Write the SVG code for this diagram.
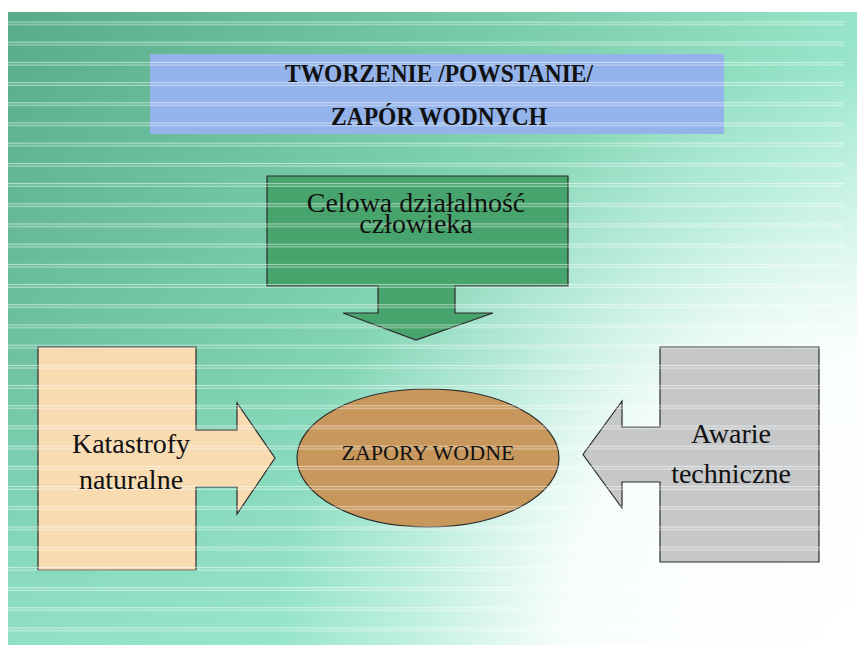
<svg xmlns="http://www.w3.org/2000/svg" width="857" height="645" viewBox="0 0 857 645">
<defs>
<linearGradient id="bg" x1="0" y1="0" x2="1" y2="0.55">
<stop offset="0" stop-color="#58ab89"/>
<stop offset="0.45" stop-color="#78cba9"/>
<stop offset="0.8" stop-color="#9be6cb"/>
<stop offset="1" stop-color="#c9f6ea"/>
</linearGradient>
<linearGradient id="bgv" x1="0" y1="0" x2="0" y2="1">
<stop offset="0" stop-color="#8fe3c9" stop-opacity="0"/>
<stop offset="0.55" stop-color="#8fe3c9" stop-opacity="0.15"/>
<stop offset="1" stop-color="#9ae8d2" stop-opacity="0.75"/>
</linearGradient>
<radialGradient id="fade" cx="857" cy="645" r="580" gradientUnits="userSpaceOnUse">
<stop offset="0" stop-color="#ffffff" stop-opacity="1"/>
<stop offset="0.5" stop-color="#ffffff" stop-opacity="0.92"/>
<stop offset="0.78" stop-color="#ffffff" stop-opacity="0.35"/>
<stop offset="1" stop-color="#ffffff" stop-opacity="0"/>
</radialGradient>
<pattern id="stripes" patternUnits="userSpaceOnUse" x="0" y="21.5" width="857" height="20.2">
<rect x="0" y="0" width="857" height="1" fill="#ffffff" fill-opacity="0.55"/>
<rect x="0" y="2.6" width="857" height="1" fill="#ffffff" fill-opacity="0.55"/>
</pattern>
</defs>
<style>
.shape{stroke:#2b2b2b;stroke-width:1.2;stroke-linejoin:miter}
text{fill:#111;text-anchor:middle}
</style>
<rect x="0" y="0" width="857" height="645" fill="#ffffff"/>
<g id="background">
<rect x="8" y="12" width="849" height="633" fill="url(#bg)"/>
<rect x="8" y="12" width="849" height="633" fill="url(#bgv)"/>
<rect x="8" y="12" width="849" height="633" fill="url(#fade)"/>
</g>
<g id="title">
<rect x="150" y="54" width="574" height="80" fill="#93b3ea"/>
</g>
<g id="node-celowa">
<path class="shape" fill="#47a46c" d="M267,176 H568 V286 H455 V313 H493 L416,340 L343,313 H378 V286 H267 Z"/>
</g>
<g id="node-katastrofy">
<path class="shape" fill="#f8dbb1" d="M38,347 H196 V430 H237 V403 L275,458 L237,514 V487 H196 V570 H38 Z"/>
</g>
<g id="node-awarie">
<path class="shape" fill="#c5c7c9" d="M660,347 H819 V562 H660 V482 H622 V508 L583,454.5 L622,401 V427 H660 Z"/>
</g>
<g id="node-zapory">
<ellipse class="shape" fill="#c8975c" cx="428" cy="458" rx="131" ry="69"/>
</g>
<rect x="8" y="12" width="836" height="633" fill="url(#stripes)"/>
<g id="connectors"/>
<g id="labels" font-family="'Liberation Serif', 'DejaVu Serif', serif">
<text font-size="25" font-weight="bold" x="439" y="82" textLength="308" lengthAdjust="spacingAndGlyphs">TWORZENIE /POWSTANIE/</text>
<text font-size="25" font-weight="bold" x="439" y="125" textLength="216" lengthAdjust="spacingAndGlyphs">ZAPÓR WODNYCH</text>
<text font-size="28" x="416" y="212">Celowa działalność</text>
<text font-size="28" x="416" y="233">człowieka</text>
<text font-size="28" x="131" y="453">Katastrofy</text>
<text font-size="28" x="131" y="489">naturalne</text>
<text font-size="28" x="731" y="443">Awarie</text>
<text font-size="28" x="731" y="483">techniczne</text>
<text font-size="22" x="428" y="460">ZAPORY WODNE</text>
</g>
</svg>
